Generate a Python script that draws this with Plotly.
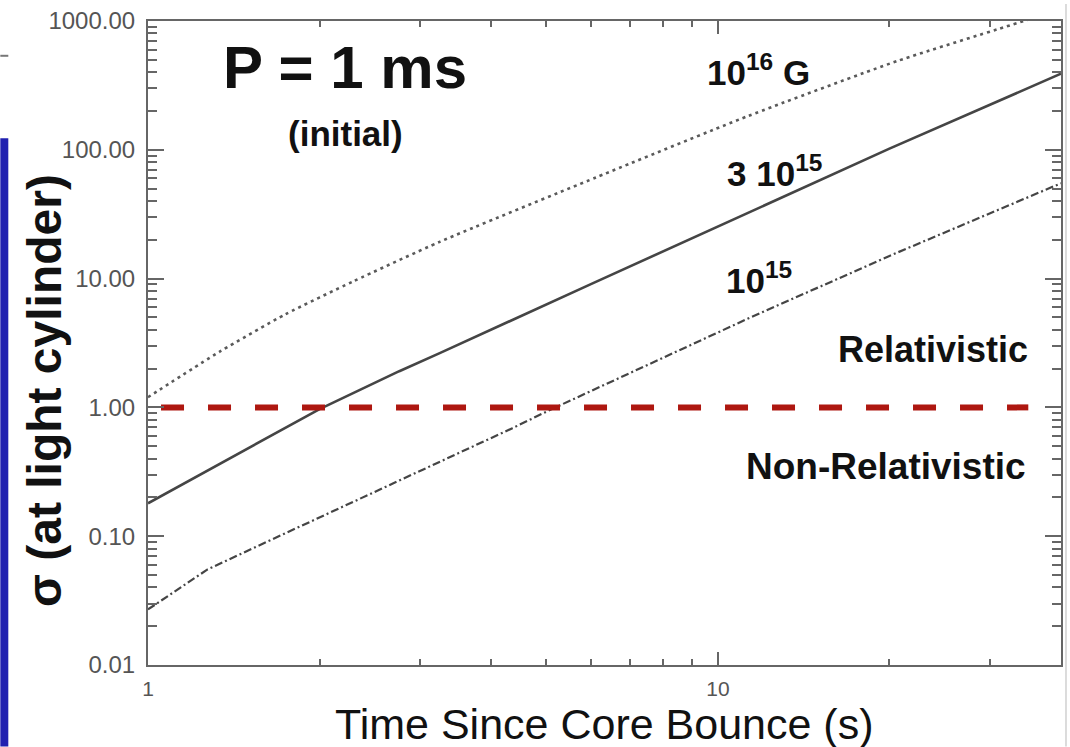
import numpy as np
import plotly.graph_objects as go

# ---- data ----
time_1e16 = [1.0, 1.34, 1.74, 2.29, 3.25, 6.11, 11.3, 20.7, 34.4, 40.0]
sigma_1e16 = [1.2, 2.73, 5.27, 9.5, 19.3, 61, 183, 491, 1000, 1260]

time_3e15 = [1.0, 2.0, 2.76, 3.25, 6.0, 11.3, 20.0, 40.0]
sigma_3e15 = [0.18, 0.97, 1.91, 2.64, 9.1, 32.4, 102, 390]

time_1e15 = [1.0, 1.27, 1.55, 2.17, 2.76, 4.36, 5.06, 11.3, 20.0, 40.0]
sigma_1e15 = [0.027, 0.055, 0.083, 0.165, 0.27, 0.69, 0.95, 4.9, 15, 55]

threshold_time = [1.054, 35.05]
threshold_sigma = [1.0, 1.0]

y_tickvals = [0.01, 0.1, 1, 10, 100, 1000]
y_ticktext = ["0.01", "0.10", "1.00", "10.00", "100.00", "1000.00"]
x_tickvals = [1, 10]
x_ticktext = ["1", "10"]
x_minor = [2, 3, 4, 5, 6, 7, 8, 9, 20, 30, 40]
y_minor = [m * 10.0 ** d for d in range(-2, 3) for m in range(2, 10)]

FONT = "Liberation Sans, Arial, sans-serif"

fig = go.Figure()
fig.add_trace(go.Scatter(x=time_1e16, y=sigma_1e16, mode="lines", line_shape="spline",
                         line=dict(color="#5a5a5a", width=2.6, dash="3px,4px", smoothing=0.6),
                         hoverinfo="skip"))
fig.add_trace(go.Scatter(x=time_3e15, y=sigma_3e15, mode="lines",
                         line=dict(color="#454545", width=2.6),
                         hoverinfo="skip"))
fig.add_trace(go.Scatter(x=time_1e15, y=sigma_1e15, mode="lines",
                         line=dict(color="#454545", width=2.2, dash="8px,3px,2px,3px"),
                         hoverinfo="skip"))
fig.add_trace(go.Scatter(x=threshold_time, y=threshold_sigma, mode="lines",
                         line=dict(color="#AE1710", width=6, dash="23px,24px"),
                         hoverinfo="skip"))

fig.update_xaxes(type="log", range=[0, np.log10(40)],
                 tickvals=x_tickvals, ticktext=x_ticktext,
                 ticks="inside", ticklen=13, tickwidth=1.5, tickcolor="#666",
                 showline=True, linecolor="#666", linewidth=2, mirror="allticks",
                 showgrid=False, zeroline=False, ticklabelstandoff=4,
                 tickfont=dict(family=FONT, size=21, color="#555"),
                 minor=dict(tickvals=x_minor, ticks="inside", ticklen=6,
                            tickwidth=1.5, tickcolor="#666", showgrid=False))
fig.update_yaxes(type="log", range=[-2, 3],
                 tickvals=y_tickvals, ticktext=y_ticktext,
                 ticks="inside", ticklen=16, tickwidth=1.5, tickcolor="#666",
                 showline=True, linecolor="#666", linewidth=2, mirror="allticks",
                 showgrid=False, zeroline=False, ticklabelstandoff=6,
                 tickfont=dict(family=FONT, size=24, color="#555"),
                 minor=dict(tickvals=y_minor, ticks="inside", ticklen=9,
                            tickwidth=1.5, tickcolor="#666", showgrid=False))

def px2x(px):
    return (px - 148) / 915.0

def px2y(py):
    return (665 - py) / 648.0

annots = [
    dict(text="<b>P = 1 ms</b>", x=px2x(345), y=px2y(64), xanchor="center", yanchor="middle", size=60),
    dict(text="<b>(initial)</b>", x=px2x(346), y=px2y(130), xanchor="center", yanchor="middle", size=35),
    dict(text="<b>10<sup>16</sup> G</b>", x=px2x(706), y=px2y(66), xanchor="left", yanchor="middle", size=35),
    dict(text="<b>3 10<sup>15</sup></b>", x=px2x(726), y=px2y(168), xanchor="left", yanchor="middle", size=35),
    dict(text="<b>10<sup>15</sup></b>", x=px2x(725), y=px2y(276), xanchor="left", yanchor="middle", size=35),
    dict(text="<b>Relativistic</b>", x=px2x(1032), y=px2y(348), xanchor="right", yanchor="middle", size=36),
    dict(text="<b>Non-Relativistic</b>", x=px2x(1030), y=px2y(465), xanchor="right", yanchor="middle", size=37),
]
for a in annots:
    fig.add_annotation(text=a["text"], x=a["x"], y=a["y"], xref="paper", yref="paper",
                       xanchor=a["xanchor"], yanchor=a["yanchor"], showarrow=False,
                       font=dict(family=FONT, size=a["size"], color="#111"))

# axis titles
fig.add_annotation(text="<b>σ (at light cylinder)</b>", x=px2x(44), y=px2y(389),
                   xref="paper", yref="paper", xanchor="center", yanchor="middle",
                   textangle=-90, showarrow=False,
                   font=dict(family=FONT, size=48, color="#111"))
fig.add_annotation(text="Time Since Core Bounce (s)", x=px2x(606), y=px2y(724),
                   xref="paper", yref="paper", xanchor="center", yanchor="middle",
                   showarrow=False, font=dict(family=FONT, size=43, color="#111"))

# decorative slide elements
fig.add_shape(type="rect", xref="paper", yref="paper",
              x0=px2x(0), x1=px2x(8), y0=px2y(135), y1=px2y(747),
              fillcolor="#2020B0", line=dict(width=0), layer="above")
fig.add_shape(type="line", xref="paper", yref="paper",
              x0=px2x(0), x1=px2x(8), y0=px2y(52), y1=px2y(52),
              line=dict(color="#777", width=2))
fig.add_shape(type="line", xref="paper", yref="paper",
              x0=px2x(1068), x1=px2x(1068), y0=px2y(0), y1=px2y(747),
              line=dict(color="#d0d0d0", width=1.5))

fig.update_layout(width=1070, height=747,
                  margin=dict(l=148, r=7, t=17, b=82),
                  plot_bgcolor="white", paper_bgcolor="white",
                  showlegend=False, font=dict(family=FONT))

fig.write_html("out.html")
